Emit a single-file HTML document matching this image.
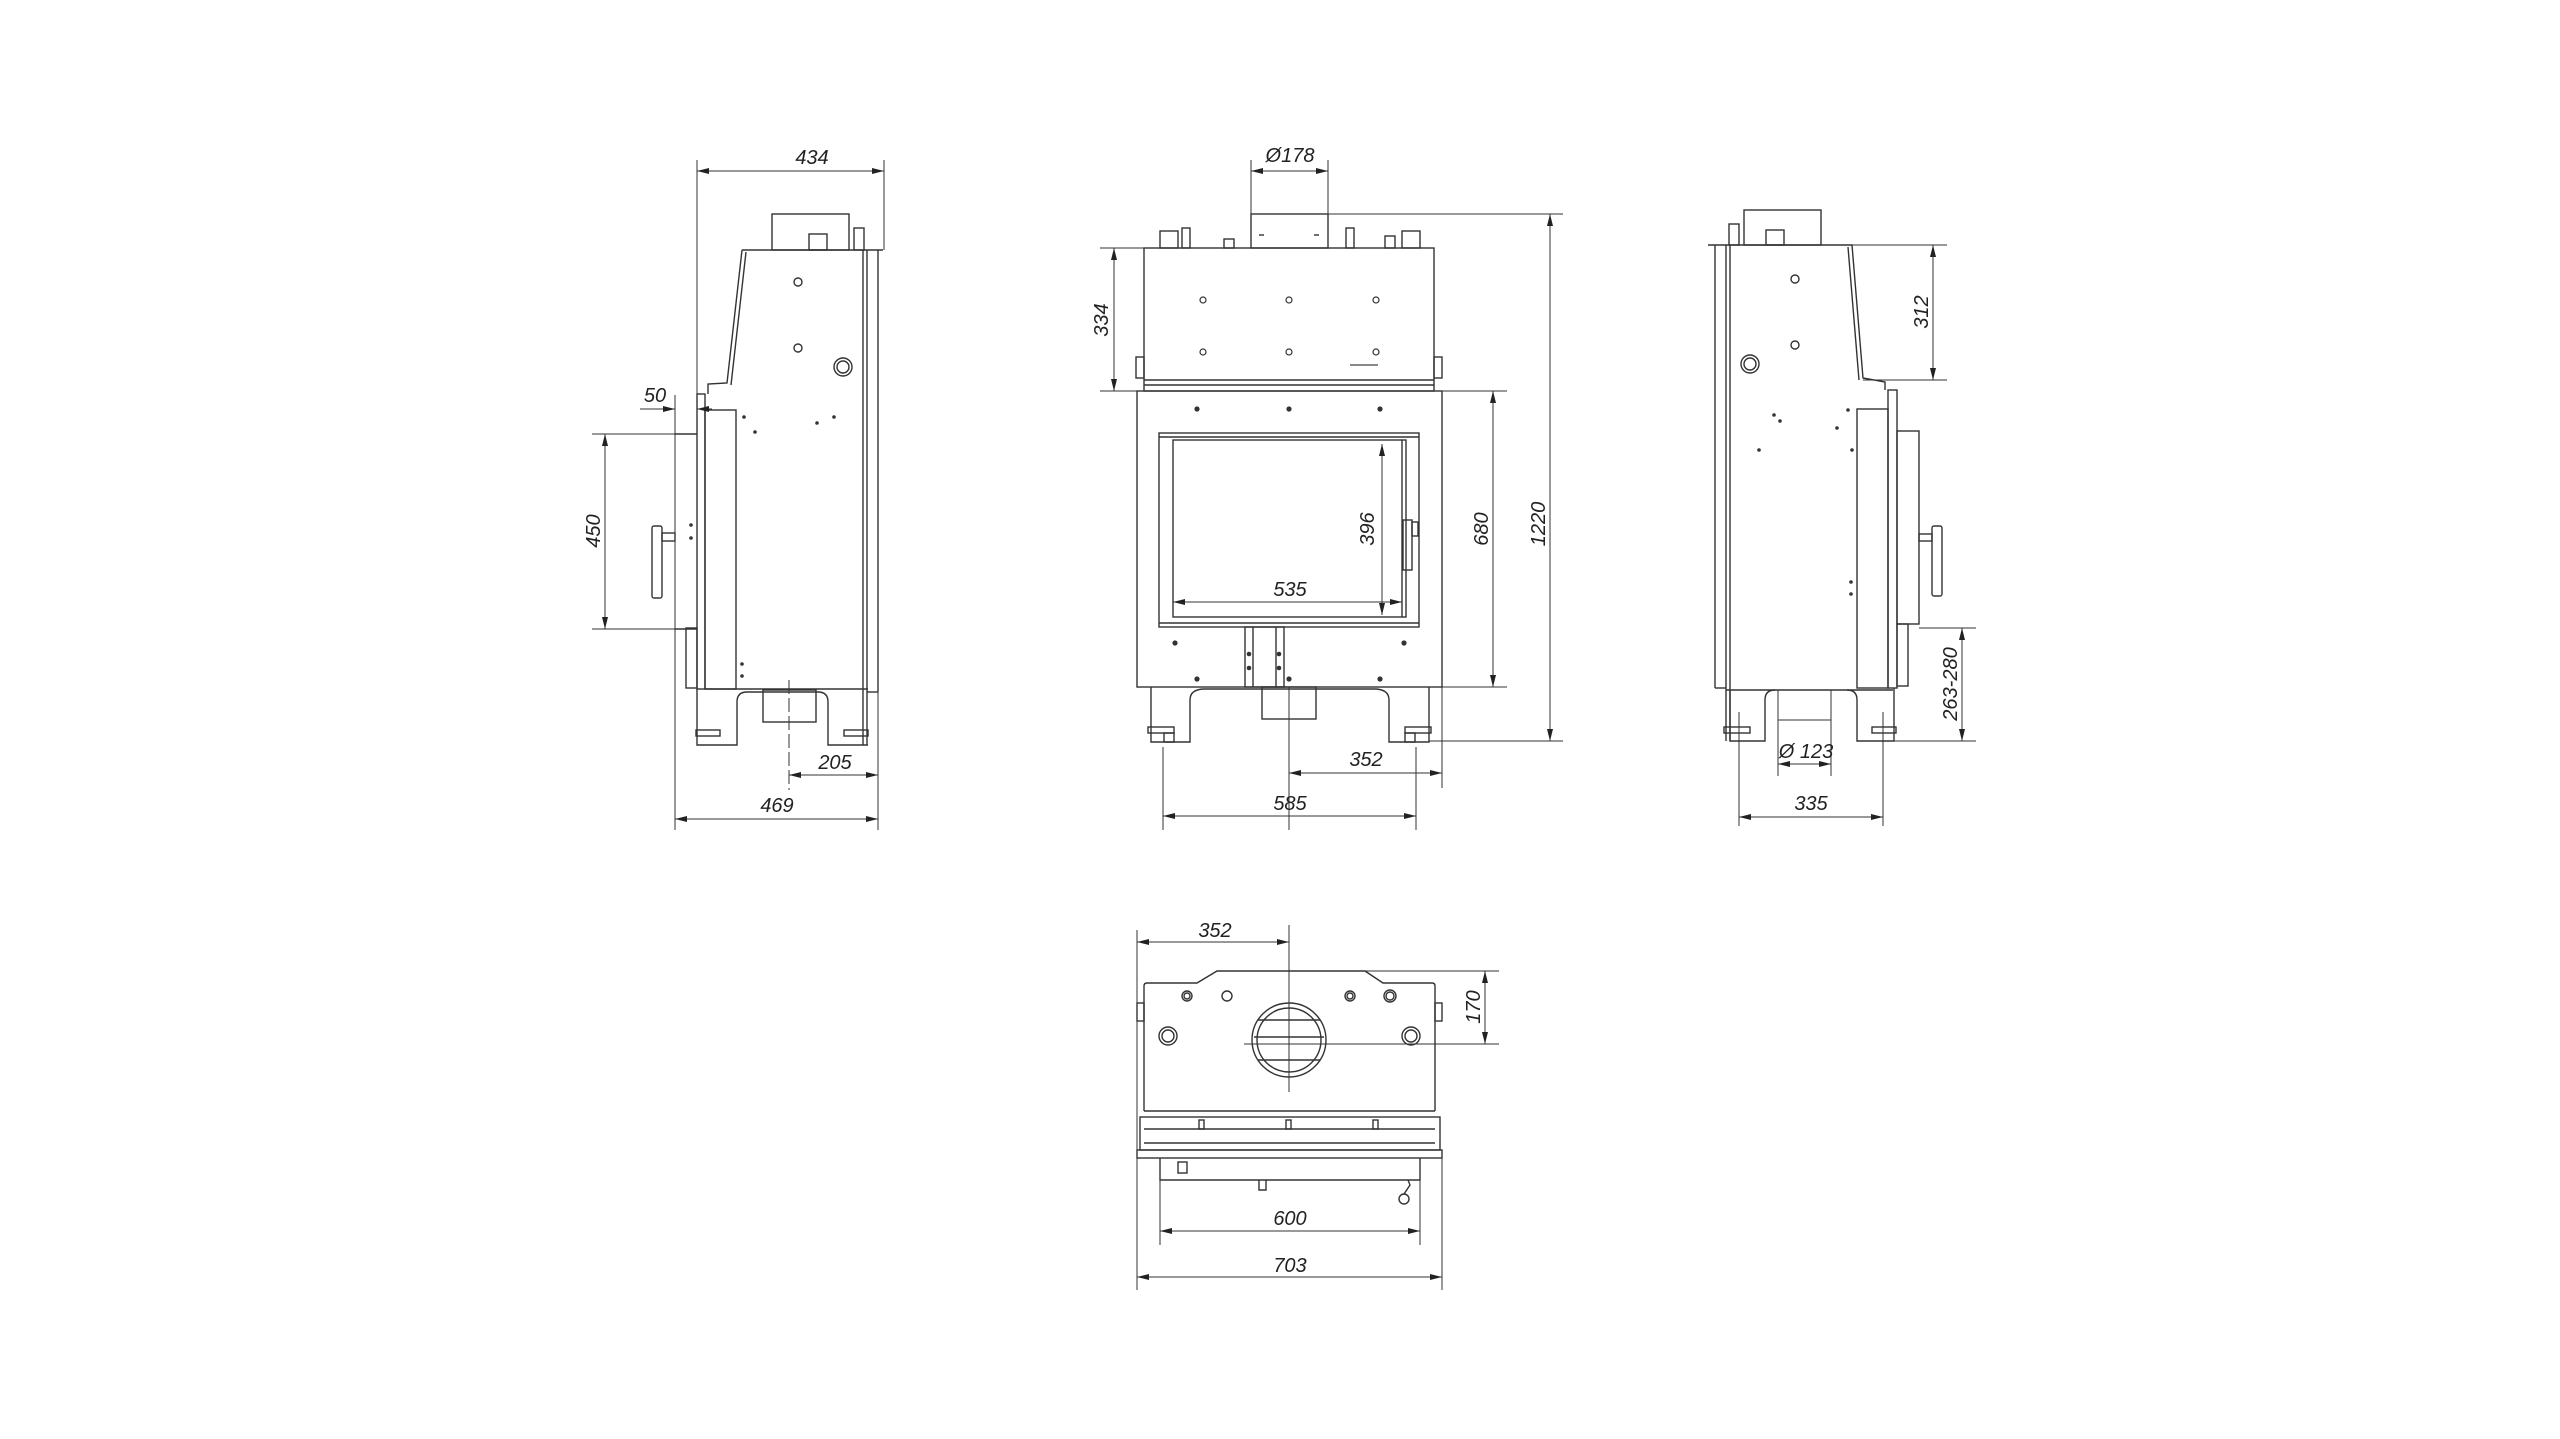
<!DOCTYPE html>
<html><head><meta charset="utf-8"><style>
html,body{margin:0;padding:0;background:#fff;}
svg{display:block;}
text{font-family:"Liberation Sans",sans-serif;font-style:italic;font-size:20px;fill:#222;}
</style></head><body>
<svg width="2560" height="1439" viewBox="0 0 2560 1439" xmlns="http://www.w3.org/2000/svg">
<defs>
<marker id="a" viewBox="0 0 12 6" refX="12" refY="3" markerWidth="12" markerHeight="6" orient="auto-start-reverse" markerUnits="userSpaceOnUse"><path d="M0,0 L12,3 L0,6 z" fill="#222"/></marker>
</defs>
<rect width="2560" height="1439" fill="#fff"/>
<g fill="none" stroke="#333" stroke-width="1.4">

<!-- ============ FRONT VIEW ============ -->
<rect x="1251" y="214" width="77" height="34"/>
<line x1="1259" y1="235" x2="1264" y2="235"/><line x1="1314" y1="235" x2="1319" y2="235"/>
<rect x="1160" y="231" width="18" height="17"/><rect x="1182" y="228" width="8" height="20"/>
<rect x="1224" y="239" width="10" height="9"/>
<rect x="1346" y="228" width="8" height="20"/><rect x="1385" y="236" width="10" height="12"/><rect x="1402" y="231" width="18" height="17"/>
<rect x="1144" y="248" width="290" height="143"/>
<line x1="1144" y1="380" x2="1434" y2="380"/><line x1="1144" y1="385" x2="1434" y2="385"/>
<rect x="1136" y="357" width="8" height="21"/><rect x="1434" y="357" width="8" height="21"/>
<g stroke-width="1.2">
<circle cx="1203" cy="300" r="3"/><circle cx="1289" cy="300" r="3"/><circle cx="1376" cy="300" r="3"/>
<circle cx="1203" cy="352" r="3"/><circle cx="1289" cy="352" r="3"/><circle cx="1376" cy="352" r="3"/>
</g>
<line x1="1350" y1="365" x2="1378" y2="365" stroke-width="2" stroke="#888"/>
<rect x="1137" y="391" width="305" height="296"/>
<rect x="1159" y="433" width="260" height="194"/>
<rect x="1173" y="440" width="233" height="177"/>
<line x1="1159" y1="437" x2="1419" y2="437"/>
<line x1="1159" y1="623" x2="1419" y2="623"/>
<line x1="1402" y1="440" x2="1402" y2="617"/>
<rect x="1403" y="520" width="9" height="50"/>
<rect x="1412" y="522" width="6" height="14"/>
<rect x="1245" y="627" width="39" height="60"/>
<line x1="1253" y1="627" x2="1253" y2="687"/><line x1="1276" y1="627" x2="1276" y2="687"/>
<g fill="#333" stroke="none">
<circle cx="1197" cy="409" r="2.6"/><circle cx="1289" cy="409" r="2.6"/><circle cx="1380" cy="409" r="2.6"/>
<circle cx="1175" cy="643" r="2.6"/><circle cx="1404" cy="643" r="2.6"/>
<circle cx="1197" cy="679" r="2.6"/><circle cx="1289" cy="679" r="2.6"/><circle cx="1380" cy="679" r="2.6"/>
<circle cx="1249" cy="654" r="2.3"/><circle cx="1279" cy="654" r="2.3"/><circle cx="1249" cy="668" r="2.3"/><circle cx="1279" cy="668" r="2.3"/>
</g>
<path d="M1151,687 V742 H1190 V700 Q1190,689 1205,689 H1374 Q1389,689 1389,700 V742 H1429 V687"/>
<rect x="1148" y="727" width="26" height="6"/><rect x="1164" y="733" width="10" height="9"/>
<rect x="1405" y="727" width="26" height="6"/><rect x="1405" y="733" width="10" height="9"/>
<rect x="1262" y="687" width="54" height="32"/>
<line x1="1289" y1="687" x2="1289" y2="830" stroke-width="1"/>
<line x1="1251" y1="160" x2="1251" y2="214" stroke-width="1"/><line x1="1328" y1="160" x2="1328" y2="214" stroke-width="1"/>
<line x1="1251" y1="171" x2="1328" y2="171" stroke-width="1" marker-start="url(#a)" marker-end="url(#a)"/>
<line x1="1328" y1="214" x2="1563" y2="214" stroke-width="1"/>
<line x1="1429" y1="741" x2="1563" y2="741" stroke-width="1"/>
<line x1="1550" y1="214" x2="1550" y2="741" stroke-width="1" marker-start="url(#a)" marker-end="url(#a)"/>
<line x1="1100" y1="248" x2="1144" y2="248" stroke-width="1"/><line x1="1100" y1="391" x2="1137" y2="391" stroke-width="1"/>
<line x1="1114" y1="248" x2="1114" y2="391" stroke-width="1" marker-start="url(#a)" marker-end="url(#a)"/>
<line x1="1442" y1="391" x2="1507" y2="391" stroke-width="1"/><line x1="1442" y1="687" x2="1507" y2="687" stroke-width="1"/>
<line x1="1493" y1="391" x2="1493" y2="687" stroke-width="1" marker-start="url(#a)" marker-end="url(#a)"/>
<line x1="1382" y1="444" x2="1382" y2="615" stroke-width="1" marker-start="url(#a)" marker-end="url(#a)"/>
<line x1="1173" y1="602" x2="1402" y2="602" stroke-width="1" marker-start="url(#a)" marker-end="url(#a)"/>
<line x1="1442" y1="687" x2="1442" y2="788" stroke-width="1"/>
<line x1="1289" y1="773" x2="1442" y2="773" stroke-width="1" marker-start="url(#a)" marker-end="url(#a)"/>
<line x1="1163" y1="747" x2="1163" y2="830" stroke-width="1"/><line x1="1416" y1="747" x2="1416" y2="830" stroke-width="1"/>
<line x1="1163" y1="816" x2="1416" y2="816" stroke-width="1" marker-start="url(#a)" marker-end="url(#a)"/>

<!-- ============ LEFT VIEW ============ -->
<rect x="772" y="214" width="77" height="36"/>
<rect x="809" y="234" width="18" height="16"/>
<rect x="854" y="228" width="10" height="22"/>
<path d="M742,250 H883"/>
<path d="M742,250 L727,383 L708,384 V394"/>
<path d="M746,252 L731,385"/>
<line x1="863" y1="250" x2="863" y2="745"/><line x1="867" y1="250" x2="867" y2="745"/>
<line x1="878" y1="250" x2="878" y2="692"/><line x1="867" y1="692" x2="878" y2="692"/>
<rect x="697" y="394" width="8" height="295"/>
<rect x="705" y="410" width="31" height="279"/>
<rect x="686" y="628" width="11" height="60"/>
<line x1="675" y1="434" x2="697" y2="434"/><line x1="675" y1="629" x2="697" y2="629"/>
<rect x="652" y="526" width="10" height="72" rx="2"/>
<rect x="662" y="533" width="13" height="8"/>
<circle cx="798" cy="282" r="4"/><circle cx="798" cy="348" r="4"/>
<circle cx="843" cy="367" r="9"/><circle cx="843" cy="367" r="6"/>
<path d="M705,689 H868"/>
<path d="M697,689 V745 H737 V702 Q737,692 747,692 H818 Q828,692 828,702 V745 H868"/>
<rect x="696" y="730" width="24" height="6"/><rect x="844" y="730" width="24" height="6"/>
<rect x="763" y="690" width="53" height="32"/>
<line x1="789" y1="680" x2="789" y2="790" stroke-width="1" stroke-dasharray="14,4"/>
<g fill="#333" stroke="none">
<circle cx="744" cy="417" r="1.8"/><circle cx="834" cy="417" r="1.8"/><circle cx="755" cy="432" r="1.8"/><circle cx="817" cy="423" r="1.8"/>
<circle cx="691" cy="525" r="1.8"/><circle cx="691" cy="538" r="1.8"/><circle cx="742" cy="664" r="1.8"/><circle cx="742" cy="676" r="1.8"/>
</g>
<line x1="697" y1="160" x2="697" y2="394" stroke-width="1"/><line x1="884" y1="160" x2="884" y2="250" stroke-width="1"/>
<line x1="697" y1="171" x2="884" y2="171" stroke-width="1" marker-start="url(#a)" marker-end="url(#a)"/>
<line x1="640" y1="409" x2="675" y2="409" stroke-width="1" marker-end="url(#a)"/>
<line x1="697" y1="409" x2="712" y2="409" stroke-width="1"/>
<line x1="697" y1="409" x2="706" y2="409" stroke-width="1" marker-start="url(#a)"/>
<line x1="675" y1="395" x2="675" y2="830" stroke-width="1"/>
<line x1="592" y1="434" x2="675" y2="434" stroke-width="1"/><line x1="592" y1="629" x2="675" y2="629" stroke-width="1"/>
<line x1="605" y1="434" x2="605" y2="629" stroke-width="1" marker-start="url(#a)" marker-end="url(#a)"/>
<line x1="878" y1="692" x2="878" y2="830" stroke-width="1"/>
<line x1="789" y1="775" x2="878" y2="775" stroke-width="1" marker-start="url(#a)" marker-end="url(#a)"/>
<line x1="675" y1="819" x2="878" y2="819" stroke-width="1" marker-start="url(#a)" marker-end="url(#a)"/>

<!-- ============ RIGHT VIEW ============ -->
<rect x="1744" y="210" width="77" height="35"/>
<rect x="1766" y="230" width="18" height="15"/>
<rect x="1729" y="224" width="10" height="21"/>
<path d="M1708,245 H1852 L1863,378 L1885,382 V390"/>
<path d="M1848,247 L1859,380"/>
<line x1="1715" y1="245" x2="1715" y2="688"/><line x1="1726" y1="245" x2="1726" y2="741"/><line x1="1730" y1="245" x2="1730" y2="741"/>
<line x1="1715" y1="688" x2="1726" y2="688"/>
<rect x="1888" y="390" width="9" height="298"/>
<rect x="1857" y="409" width="31" height="279"/>
<rect x="1897" y="431" width="22" height="193"/>
<rect x="1897" y="624" width="11" height="62"/>
<rect x="1932" y="526" width="10" height="70" rx="2"/>
<rect x="1919" y="534" width="13" height="7"/>
<circle cx="1795" cy="279" r="4"/><circle cx="1795" cy="345" r="4"/>
<circle cx="1750" cy="364" r="9"/><circle cx="1750" cy="364" r="6"/>
<path d="M1726,690 H1893"/>
<path d="M1730,690 V741 H1765 V700 Q1765,690 1775,690 M1847,690 Q1857,690 1857,700 V741 H1894 V688"/>
<rect x="1724" y="727" width="26" height="6"/><rect x="1872" y="727" width="24" height="6"/>
<g fill="#333" stroke="none">
<circle cx="1774" cy="415" r="1.8"/><circle cx="1780" cy="421" r="1.8"/><circle cx="1848" cy="410" r="1.8"/><circle cx="1837" cy="428" r="1.8"/>
<circle cx="1759" cy="450" r="1.8"/><circle cx="1852" cy="450" r="1.8"/><circle cx="1851" cy="582" r="1.8"/><circle cx="1851" cy="594" r="1.8"/>
</g>
<line x1="1852" y1="245" x2="1947" y2="245" stroke-width="1"/><line x1="1863" y1="380" x2="1947" y2="380" stroke-width="1"/>
<line x1="1933" y1="245" x2="1933" y2="380" stroke-width="1" marker-start="url(#a)" marker-end="url(#a)"/>
<line x1="1919" y1="628" x2="1976" y2="628" stroke-width="1"/><line x1="1894" y1="741" x2="1976" y2="741" stroke-width="1"/>
<line x1="1962" y1="628" x2="1962" y2="741" stroke-width="1" marker-start="url(#a)" marker-end="url(#a)"/>
<line x1="1778" y1="690" x2="1778" y2="776" stroke-width="1"/><line x1="1831" y1="690" x2="1831" y2="776" stroke-width="1"/>
<line x1="1778" y1="720" x2="1831" y2="720" stroke-width="1"/>
<line x1="1778" y1="764" x2="1831" y2="764" stroke-width="1" marker-start="url(#a)" marker-end="url(#a)"/>
<line x1="1739" y1="712" x2="1739" y2="826" stroke-width="1"/><line x1="1883" y1="712" x2="1883" y2="826" stroke-width="1"/>
<line x1="1739" y1="817" x2="1883" y2="817" stroke-width="1" marker-start="url(#a)" marker-end="url(#a)"/>

<!-- ============ BOTTOM (TOP) VIEW ============ -->
<path d="M1144,1111 V986 Q1144,983 1147,983 H1197 L1217,971 H1365 L1383,983 H1432 Q1435,983 1435,986 V1111"/>
<line x1="1144" y1="1111" x2="1435" y2="1111"/>
<rect x="1137" y="1003" width="7" height="18"/><rect x="1435" y="1003" width="7" height="18"/>
<circle cx="1289" cy="1040" r="37"/><circle cx="1289" cy="1040" r="32"/>
<line x1="1258" y1="1020" x2="1320" y2="1020"/><line x1="1254" y1="1037" x2="1324" y2="1037"/><line x1="1258" y1="1060" x2="1320" y2="1060"/>
<circle cx="1187" cy="996" r="5"/><circle cx="1187" cy="996" r="3"/>
<circle cx="1227" cy="996" r="5"/>
<circle cx="1350" cy="996" r="5"/><circle cx="1350" cy="996" r="3"/>
<circle cx="1390" cy="996" r="6"/><circle cx="1390" cy="996" r="4"/>
<circle cx="1168" cy="1036" r="9"/><circle cx="1168" cy="1036" r="6"/>
<circle cx="1411" cy="1036" r="9"/><circle cx="1411" cy="1036" r="6"/>
<line x1="1244" y1="1044" x2="1499" y2="1044" stroke-width="1"/>
<line x1="1289" y1="925" x2="1289" y2="1092" stroke-width="1"/>
<rect x="1140" y="1117" width="300" height="33"/>
<line x1="1144" y1="1129" x2="1435" y2="1129"/><line x1="1144" y1="1143" x2="1435" y2="1143"/>
<rect x="1137" y="1150" width="305" height="8"/>
<rect x="1199" y="1120" width="5" height="9"/><rect x="1286" y="1120" width="5" height="9"/><rect x="1373" y="1120" width="5" height="9"/>
<path d="M1160,1158 V1180 H1420 V1158"/>
<rect x="1178" y="1162" width="9" height="11"/>
<path d="M1259,1180 V1190 H1266 V1180"/>
<circle cx="1404" cy="1199" r="5"/><path d="M1404,1194 L1410,1185 L1408,1180"/>
<line x1="1137" y1="930" x2="1137" y2="1290" stroke-width="1"/>
<line x1="1137" y1="942" x2="1289" y2="942" stroke-width="1" marker-start="url(#a)" marker-end="url(#a)"/>
<line x1="1365" y1="971" x2="1499" y2="971" stroke-width="1"/>
<line x1="1485" y1="971" x2="1485" y2="1044" stroke-width="1" marker-start="url(#a)" marker-end="url(#a)"/>
<line x1="1160" y1="1180" x2="1160" y2="1245" stroke-width="1"/><line x1="1420" y1="1180" x2="1420" y2="1245" stroke-width="1"/>
<line x1="1160" y1="1231" x2="1420" y2="1231" stroke-width="1" marker-start="url(#a)" marker-end="url(#a)"/>
<line x1="1442" y1="1158" x2="1442" y2="1290" stroke-width="1"/>
<line x1="1137" y1="1277" x2="1442" y2="1277" stroke-width="1" marker-start="url(#a)" marker-end="url(#a)"/>
</g>

<text x="1290" y="162" text-anchor="middle">Ø178</text>
<text x="1112" y="320" text-anchor="middle" transform="rotate(-90 1112 320)" dy="-4">334</text>
<text x="1374" y="529" text-anchor="middle" transform="rotate(-90 1374 529)">396</text>
<text x="1290" y="596" text-anchor="middle">535</text>
<text x="1488" y="529" text-anchor="middle" transform="rotate(-90 1488 529)">680</text>
<text x="1545" y="524" text-anchor="middle" transform="rotate(-90 1545 524)">1220</text>
<text x="1366" y="766" text-anchor="middle">352</text>
<text x="1290" y="810" text-anchor="middle">585</text>

<text x="812" y="164" text-anchor="middle">434</text>
<text x="655" y="402" text-anchor="middle">50</text>
<text x="600" y="531" text-anchor="middle" transform="rotate(-90 600 531)">450</text>
<text x="835" y="769" text-anchor="middle">205</text>
<text x="777" y="812" text-anchor="middle">469</text>

<text x="1928" y="312" text-anchor="middle" transform="rotate(-90 1928 312)">312</text>
<text x="1957" y="684" text-anchor="middle" transform="rotate(-90 1957 684)">263-280</text>
<text x="1806" y="758" text-anchor="middle">Ø 123</text>
<text x="1811" y="810" text-anchor="middle">335</text>

<text x="1215" y="937" text-anchor="middle">352</text>
<text x="1480" y="1007" text-anchor="middle" transform="rotate(-90 1480 1007)">170</text>
<text x="1290" y="1225" text-anchor="middle">600</text>
<text x="1290" y="1272" text-anchor="middle">703</text>
</svg>
</body></html>
